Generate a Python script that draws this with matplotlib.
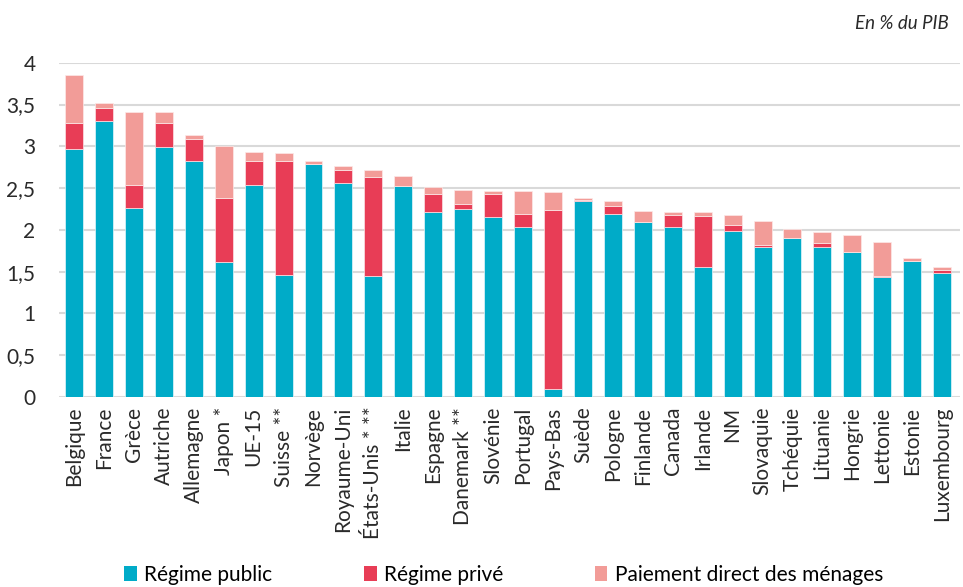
import matplotlib
matplotlib.use("Agg")
import matplotlib.pyplot as plt
import numpy as np
from matplotlib.patches import Patch

categories = ["Belgique", "France", "Grèce", "Autriche", "Allemagne", "Japon *", "UE-15",
              "Suisse **", "Norvège", "Royaume-Uni", "États-Unis * **", "Italie", "Espagne",
              "Danemark **", "Slovénie", "Portugal", "Pays-Bas", "Suède", "Pologne", "Finlande",
              "Canada", "Irlande", "NM", "Slovaquie", "Tchéquie", "Lituanie", "Hongrie",
              "Lettonie", "Estonie", "Luxembourg"]

public = [2.97, 3.30, 2.26, 2.99, 2.82, 1.62, 2.54, 1.46, 2.79, 2.56, 1.45, 2.53, 2.22,
          2.25, 2.16, 2.03, 0.10, 2.35, 2.19, 2.09, 2.03, 1.56, 1.99, 1.80, 1.90, 1.80,
          1.73, 1.44, 1.63, 1.48]
prive = [0.31, 0.16, 0.28, 0.29, 0.27, 0.76, 0.29, 1.36, 0.00, 0.16, 1.18, 0.00, 0.21,
         0.06, 0.27, 0.16, 2.14, 0.01, 0.10, 0.01, 0.15, 0.61, 0.07, 0.02, 0.00, 0.04,
         0.01, 0.01, 0.00, 0.04]
menages = [0.58, 0.06, 0.87, 0.13, 0.05, 0.62, 0.10, 0.10, 0.03, 0.04, 0.09, 0.11, 0.08,
           0.17, 0.03, 0.27, 0.21, 0.02, 0.06, 0.13, 0.04, 0.04, 0.12, 0.29, 0.11, 0.13,
           0.20, 0.40, 0.03, 0.04]

series_names = ["Régime public", "Régime privé", "Paiement direct des ménages"]
colors = ["#00abc8", "#e83d56", "#f29c98"]
yticks = [0, 0.5, 1, 1.5, 2, 2.5, 3, 3.5, 4]
ytick_labels = ["0", "0,5", "1", "1,5", "2", "2,5", "3", "3,5", "4"]

plt.rcParams['font.family'] = ['Lato', 'DejaVu Sans']

fig = plt.figure(figsize=(9.63, 5.87), dpi=100)
ax = fig.add_axes([0.0613, 0.3237, 0.9357, 0.5693])

x = np.arange(len(categories))
w = 0.6
pub = np.array(public)
prv = np.array(prive)
men = np.array(menages)
ax.bar(x, pub, width=w, color=colors[0], edgecolor="#e6f6fa", linewidth=0.5, zorder=3)
ax.bar(x, prv, width=w, bottom=pub, color=colors[1], edgecolor="#fbe3e6", linewidth=0.5, zorder=3)
ax.bar(x, men, width=w, bottom=pub + prv, color=colors[2], edgecolor="#fde9e8", linewidth=0.5, zorder=3)

ax.set_ylim(0, 4)
ax.set_xlim(-0.5, len(categories) - 1 + 0.6)
ax.set_yticks(yticks)
ax.set_yticklabels(ytick_labels, fontsize=15, color="#2a2a2a")
ax.set_xticks(x)
ax.set_xticklabels(categories, rotation=90, fontsize=15, color="#2a2a2a")
ax.tick_params(axis='both', length=0)
ax.tick_params(axis='y', pad=17)
ax.tick_params(axis='x', pad=7)
ax.yaxis.grid(True, color="#d9d9d9", linewidth=1.5, zorder=0)
ax.set_axisbelow(True)
for s in ax.spines.values():
    s.set_visible(False)

fig.text(0.985, 0.96, "En % du PIB", ha="right", va="center", fontsize=13.5, style="italic",
         color="#2a2a2a")

handles = [Patch(facecolor=c, edgecolor="none") for c in colors]
fig.legend(handles, series_names, loc="center", bbox_to_anchor=(0.523, 0.021), ncol=3, frameon=False,
           handlelength=0.6, handleheight=0.7, handletextpad=0.35, columnspacing=4.4,
           prop={'size': 15})

fig.savefig("out.png", dpi=100)
